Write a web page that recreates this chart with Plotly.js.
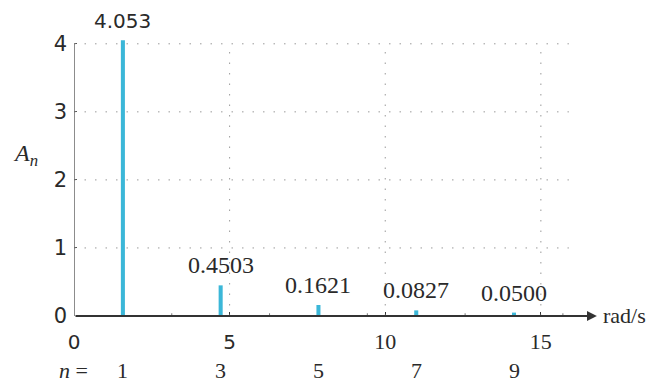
<!DOCTYPE html>
<html><head><meta charset="utf-8">
<script src="https://cdn.plot.ly/plotly-3.0.1.min.js"></script>
<style>html,body{margin:0;padding:0;background:#fff;}#c{width:656px;height:384px;}</style>
</head><body><div id="c"></div>
<script>
const harmonics = [1, 3, 5, 7, 9];
const omega = [1.571, 4.712, 7.854, 10.996, 14.137];
const amplitude = [4.053, 0.4503, 0.1621, 0.0827, 0.0500];
const valueLabels = ['4.053', '0.4503', '0.1621', '0.0827', '0.0500'];
const yTicks = [0, 1, 2, 3, 4];
const xTicks = [0, 5, 10, 15];
const minorTicks = [3.1416, 6.2832, 9.4248, 12.5664, 15.708];

const serif = 'Liberation Serif, Times New Roman, serif';
const sans = 'DejaVu Sans, Liberation Sans, sans-serif';
const gridColor = '#9a9a9a';
const ink = '#2a2a2a';

const shapes = [];
yTicks.filter(v => v > 0).forEach(v => shapes.push({type:'line', xref:'x', yref:'y', x0:0, x1:15.9, y0:v, y1:v, line:{color:gridColor, width:1, dash:'1.5px,9px'}}));
xTicks.filter(v => v > 0).forEach(v => shapes.push({type:'line', xref:'x', yref:'y', x0:v, x1:v, y0:0, y1:4, line:{color:gridColor, width:1, dash:'1.5px,9px'}}));
minorTicks.forEach(v => shapes.push({type:'line', xref:'x', yref:'y', x0:v, x1:v, y0:0, y1:0.04, line:{color:'#777', width:1}}));
shapes.push({type:'line', xref:'x', yref:'y', x0:0, x1:0, y0:0, y1:4, line:{color:'#666', width:1.5}});

const annotations = [];
omega.forEach((w, i) => annotations.push({x:w, y:amplitude[i], xref:'x', yref:'y', text:valueLabels[i], showarrow:false, yanchor:'bottom', yshift:5,
  font:{family: i < 1 ? sans : serif, size: i < 1 ? 20 : 24, color:ink}}));
harmonics.forEach((h, i) => annotations.push({x:omega[i], y:0, xref:'x', yref:'y', text:String(h), showarrow:false, yanchor:'middle', yshift:-54,
  font:{family:serif, size:22, color:ink}}));
annotations.push({x:0, y:0, xref:'x', yref:'y', text:'<i>n</i> =', showarrow:false, xanchor:'right', yanchor:'middle', xshift:16, yshift:-54, font:{family:serif, size:22, color:ink}});
annotations.push({x:0, y:2.37, xref:'x', yref:'y', text:'<i>A<sub>n</sub></i>', showarrow:false, xanchor:'right', xshift:-34, font:{family:serif, size:24, color:ink}});
annotations.push({x:16.8, y:0, xref:'x', yref:'y', ax:0, ay:0, axref:'x', ayref:'y', text:'', showarrow:true, arrowhead:2, arrowsize:1.1, arrowwidth:1.8, arrowcolor:'#333'});
annotations.push({x:16.8, y:0, xref:'x', yref:'y', text:'rad/s', showarrow:false, xanchor:'left', xshift:4, yshift:1, font:{family:serif, size:22, color:ink}});

const trace = {type:'bar', x:omega, y:amplitude, width:0.13, marker:{color:'#3bb7d8', line:{width:0}}, hoverinfo:'skip'};

const layout = {
  width:656, height:384, margin:{l:74, r:56, t:37, b:68},
  paper_bgcolor:'#fff', plot_bgcolor:'#fff', showlegend:false,
  xaxis:{range:[0,16.9], showgrid:false, zeroline:false, showline:false, tickvals:xTicks,
    ticktext:['0','5','<span style="font-family:Liberation Serif;font-size:22px">10</span>','<span style="font-family:Liberation Serif;font-size:22px">15</span>'],
    ticks:'inside', ticklen:4, tickcolor:'#333', ticklabelstandoff:12, tickfont:{family:sans, size:20, color:ink}, fixedrange:true},
  yaxis:{range:[0,4.1], showgrid:false, zeroline:false, showline:false,
    tickvals:yTicks, ticks:'inside', ticklen:3, tickcolor:'#555', ticklabelstandoff:6, tickfont:{family:sans, size:21, color:ink}, fixedrange:true},
  shapes:shapes, annotations:annotations
};
Plotly.newPlot('c', [trace], layout, {displayModeBar:false, staticPlot:true});
</script></body></html>
